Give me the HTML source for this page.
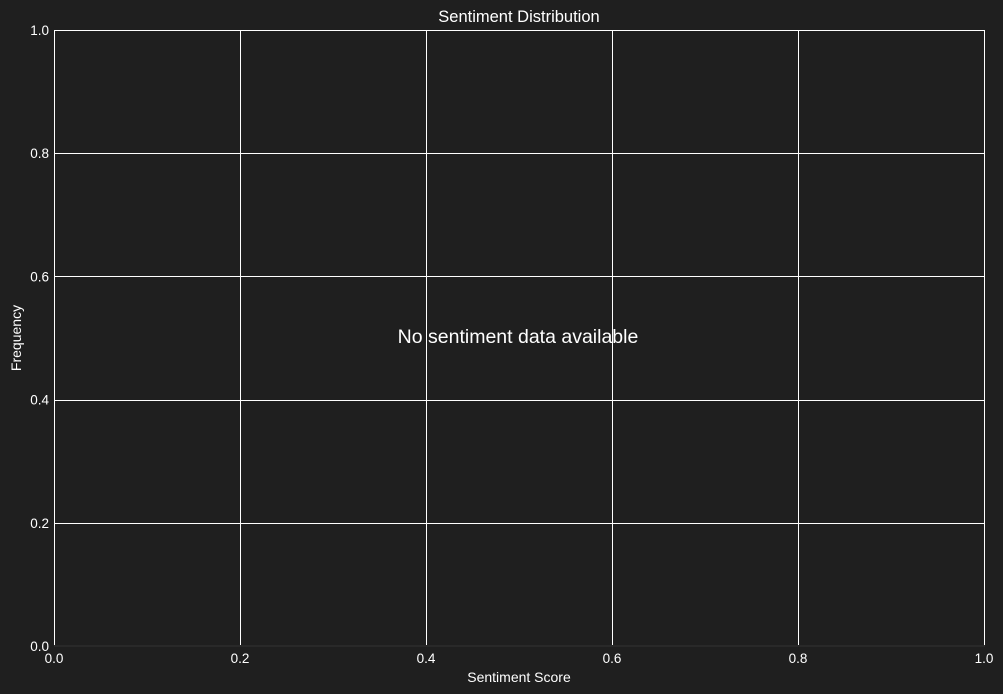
<!DOCTYPE html>
<html><head><style>
body{margin:0;background:#1f1f1f;}
svg{display:block;font-family:"Liberation Sans",sans-serif;}
</style></head><body>
<svg id="c" width="1003" height="694">
<rect width="1003" height="694" fill="#1f1f1f"/>
<rect x="54.5" y="30.5" width="930" height="615.5" fill="none" stroke="#333" stroke-width="1"/>
<g id="grid"></g>
<g id="ticks"></g>
<text x="519" y="22" fill="#fff" font-size="16.5" text-anchor="middle">Sentiment Distribution</text>
<text x="519" y="682" fill="#fff" font-size="14" text-anchor="middle">Sentiment Score</text>
<text x="0" y="0" fill="#fff" font-size="14" text-anchor="middle" transform="translate(21,338) rotate(-90)">Frequency</text>
<text x="518" y="343" fill="#fff" font-size="19.5" text-anchor="middle">No sentiment data available</text>
</svg>
<script>
const xTicks=[0,0.2,0.4,0.6,0.8,1.0];
const yTicks=[0,0.2,0.4,0.6,0.8,1.0];
const NS="http://www.w3.org/2000/svg";
const x=v=>54+v*930, y=v=>646-v*616;
const g=document.getElementById('grid'), t=document.getElementById('ticks');
xTicks.forEach(v=>{
 const px=Math.round(x(v))+0.5;
 const l=document.createElementNS(NS,'line');
 l.setAttribute('x1',px);l.setAttribute('x2',px);l.setAttribute('y1',30);l.setAttribute('y2',645);
 l.setAttribute('stroke','#fff');l.setAttribute('stroke-width','1');
 
 
 g.appendChild(l);
 const s=document.createElementNS(NS,'text');
 s.setAttribute('x',x(v));s.setAttribute('y',663);s.setAttribute('fill','#fff');s.setAttribute('font-size','13.5');s.setAttribute('text-anchor','middle');
 s.textContent=v.toFixed(1);
 
 
 t.appendChild(s);
});
yTicks.forEach(v=>{
 const py=Math.round(y(v))+0.5;
 if(v>0){
 const l=document.createElementNS(NS,'line');
 l.setAttribute('x1',54);l.setAttribute('x2',985);l.setAttribute('y1',py);l.setAttribute('y2',py);
 l.setAttribute('stroke','#fff');l.setAttribute('stroke-width','1');
 
 
 g.appendChild(l);}
 const s=document.createElementNS(NS,'text');
 s.setAttribute('x',49);s.setAttribute('y',y(v)+5);s.setAttribute('fill','#fff');s.setAttribute('font-size','13.5');s.setAttribute('text-anchor','end');
 s.textContent=v.toFixed(1);
 
 
 t.appendChild(s);
});
</script>
</body></html>
